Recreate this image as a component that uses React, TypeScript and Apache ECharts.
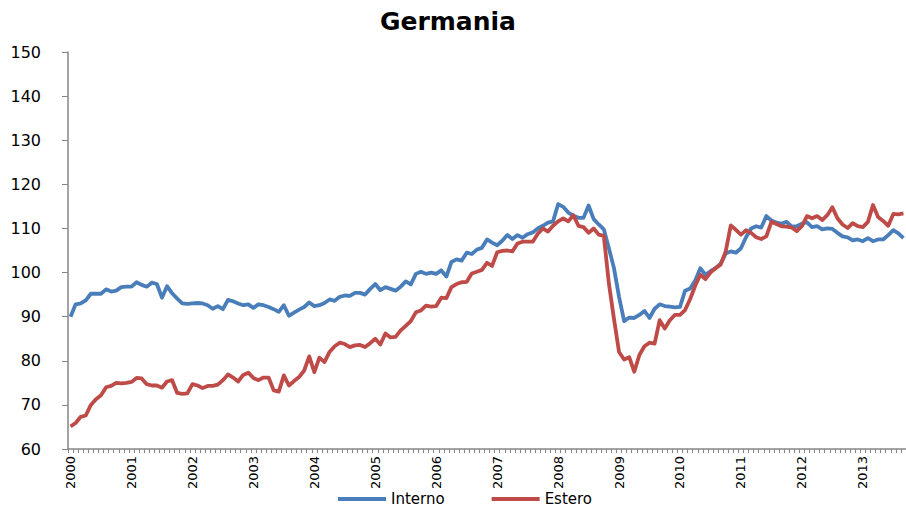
import React, { useEffect, useRef } from "react";
import * as echarts from "echarts";

const years = [2000, 2001, 2002, 2003, 2004, 2005, 2006, 2007, 2008, 2009, 2010, 2011, 2012, 2013];
const monthsLast = 9; // data end: September 2013

const interno = [
  90.0, 92.8, 93.0, 93.7, 95.2, 95.2, 95.2, 96.2, 95.7, 95.9, 96.7, 96.8,
  96.8, 97.8, 97.2, 96.8, 97.7, 97.4, 94.3, 96.9, 95.3, 94.1, 93.0, 92.9,
  93.0, 93.1, 93.0, 92.6, 91.8, 92.4, 91.7, 93.8, 93.5, 93.0, 92.6, 92.8,
  92.0, 92.8, 92.6, 92.2, 91.7, 91.1, 92.6, 90.2, 90.9, 91.6, 92.2, 93.2,
  92.4, 92.6, 93.1, 93.9, 93.6, 94.5, 94.8, 94.7, 95.4, 95.4, 95.0, 96.3,
  97.4, 96.0, 96.7, 96.3, 95.9, 96.8, 98.0, 97.3, 99.7, 100.2, 99.7, 100.0,
  99.7, 100.5, 99.1, 102.4, 103.0, 102.7, 104.5, 104.2, 105.2, 105.6, 107.5, 106.8,
  106.2, 107.2, 108.5, 107.6, 108.5, 107.9, 108.7, 109.1, 110.0, 110.6, 111.3, 111.6,
  115.5, 114.9, 113.6, 112.9, 112.4, 112.4, 115.2, 112.1, 110.9, 109.8, 105.5, 101.0,
  94.5, 89.0, 89.8, 89.7, 90.4, 91.3, 89.7, 91.8, 92.8, 92.4, 92.3, 92.1,
  92.2, 95.9, 96.4, 98.2, 101.0, 99.5, 100.3, 101.0, 102.0, 104.3, 104.8, 104.5,
  105.5, 108.0, 110.0, 110.5, 110.2, 112.8, 111.8, 111.3, 111.1, 111.5, 110.4, 110.5,
  111.1, 111.4, 110.3, 110.5, 109.8, 110.0, 109.9, 109.0, 108.2, 108.0, 107.3, 107.5,
  107.1, 107.8, 107.1, 107.5, 107.5, 108.5, 109.6, 108.9, 107.8
];

const estero = [
  65.1, 65.9, 67.3, 67.6, 70.0, 71.3, 72.2, 74.0, 74.3, 75.0, 74.9, 75.0,
  75.2, 76.1, 76.0, 74.7, 74.4, 74.4, 73.9, 75.3, 75.6, 72.7, 72.5, 72.6,
  74.7, 74.4, 73.8, 74.3, 74.3, 74.6, 75.6, 76.9, 76.2, 75.3, 76.8, 77.3,
  76.1, 75.6, 76.2, 76.2, 73.3, 73.0, 76.7, 74.4, 75.4, 76.3, 77.8, 81.0,
  77.4, 80.7, 79.7, 82.0, 83.3, 84.1, 83.8, 83.1, 83.5, 83.6, 83.1, 84.0,
  85.0, 83.7, 86.2, 85.3, 85.4, 86.9, 87.9, 89.0, 91.0, 91.4, 92.5, 92.3,
  92.4, 94.3, 94.2, 96.7, 97.4, 97.8, 97.9, 99.8, 100.2, 100.6, 102.2, 101.5,
  104.6, 104.9, 105.0, 104.8, 106.6, 107.0, 107.0, 107.0, 108.8, 110.0, 109.3, 110.6,
  111.6, 112.3, 111.6, 113.0, 110.6, 110.3, 109.0, 110.0, 108.6, 108.3, 97.5, 89.5,
  82.0, 80.3, 80.8, 77.5, 81.3, 83.3, 84.1, 83.9, 89.2, 87.3, 89.2, 90.4,
  90.4, 91.5, 94.0, 97.0, 99.5, 98.5, 100.0, 101.0, 101.8, 104.8, 110.7, 109.7,
  108.6, 109.6, 109.0, 108.0, 107.6, 108.2, 111.5, 111.0, 110.5, 110.4, 110.2, 109.4,
  110.5, 112.8, 112.3, 112.8, 111.9, 113.0, 114.8, 112.3, 110.9, 110.1, 111.2, 110.5,
  110.3, 111.5, 115.3, 112.6, 111.7, 110.6, 113.3, 113.2, 113.4
];

const seriesNames = ["Interno", "Estero"];
const yTicks = { min: 60, max: 150, interval: 10 };

// category labels: one per month, year shown on January
const categories: string[] = [];
years.forEach((y, yi) => {
  const n = yi === years.length - 1 ? monthsLast : 12;
  for (let m = 0; m < n; m++) categories.push(m === 0 ? String(y) : `${y}-${m + 1}`);
});

export default function App() {
  const ref = useRef<HTMLDivElement>(null);
  useEffect(() => {
    if (!ref.current) return;
    const chart = echarts.init(ref.current, null, { renderer: "svg" });
    const axisGray = "#868686";
    chart.setOption({
      animation: false,
      backgroundColor: "#ffffff",
      title: {
        text: "Germania",
        left: 443,
        top: 4,
        textAlign: "center",
        textStyle: { fontFamily: "DejaVu Sans", fontWeight: "bold", fontSize: 25, color: "#000" },
      },
      legend: {
        data: seriesNames,
        left: 333,
        top: 489,
        padding: [2, 5, 2, 5],
        icon: "rect",
        itemWidth: 48,
        itemHeight: 4,
        itemGap: 47,
        textStyle: { fontFamily: "DejaVu Sans", fontSize: 15, color: "#000", lineHeight: 16 },
      },
      grid: { left: 68, right: 0, top: 52, bottom: 60, containLabel: false },
      xAxis: {
        type: "category",
        data: categories,
        boundaryGap: true,
        axisLine: { lineStyle: { color: axisGray, width: 1.5 } },
        axisTick: { show: true, interval: 0, length: 4, lineStyle: { color: axisGray } },
        axisLabel: {
          interval: 11,
          rotate: 90,
          margin: 7,
          fontFamily: "DejaVu Sans",
          fontSize: 13,
          color: "#000",
          formatter: (v: string) => (v.length === 4 ? v : ""),
        },
        splitLine: { show: false },
      },
      yAxis: {
        type: "value",
        min: yTicks.min,
        max: yTicks.max,
        interval: yTicks.interval,
        axisLine: { show: true, lineStyle: { color: axisGray, width: 1.5 } },
        axisTick: { show: true, length: 6, lineStyle: { color: axisGray } },
        axisLabel: { margin: 27, fontFamily: "DejaVu Sans", fontSize: 16, color: "#000" },
        splitLine: { show: false },
      },
      series: [
        {
          name: seriesNames[0],
          type: "line",
          data: interno,
          showSymbol: false,
          symbol: "none",
          color: "#4A7EBB",
          lineStyle: { color: "#4A7EBB", width: 3.8, join: "round" },
        },
        {
          name: seriesNames[1],
          type: "line",
          data: estero,
          showSymbol: false,
          symbol: "none",
          color: "#BE4B48",
          lineStyle: { color: "#BE4B48", width: 3.8, join: "round" },
        },
      ],
    });
    return () => chart.dispose();
  }, []);
  return <div ref={ref} style={{ width: 906, height: 509, position: "absolute", left: 0, top: 0 }} />;
}
